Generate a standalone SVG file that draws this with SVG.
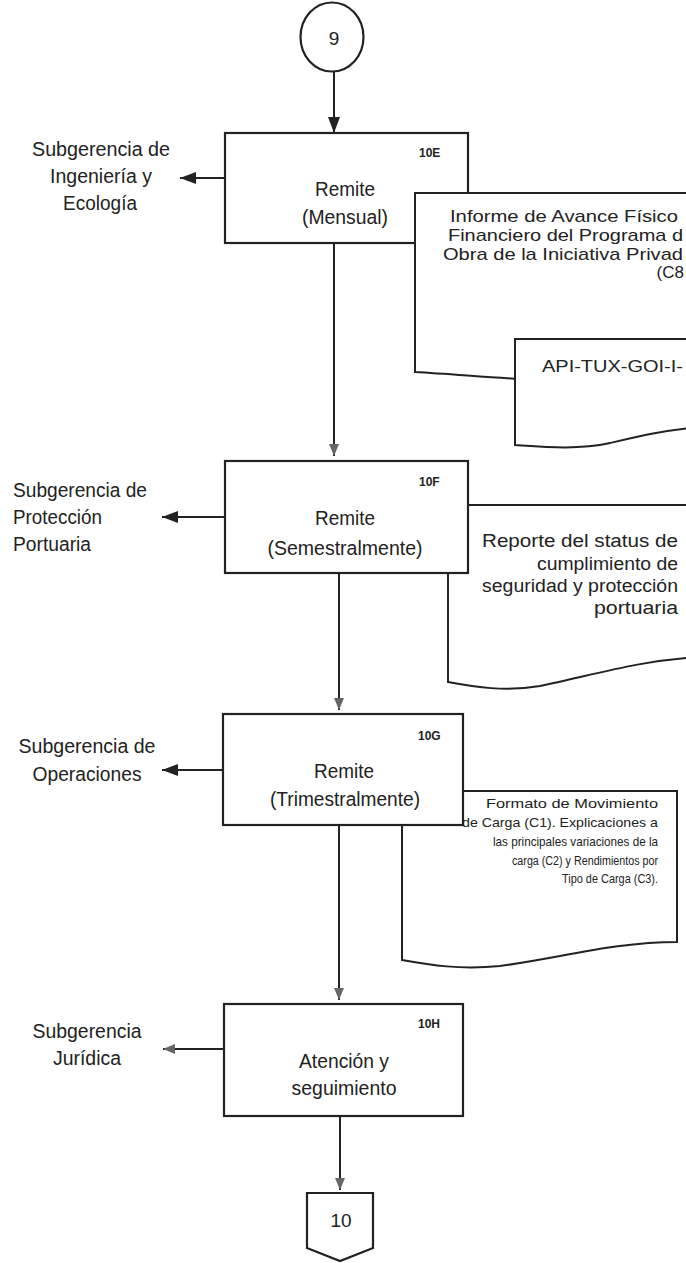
<svg xmlns="http://www.w3.org/2000/svg" width="686" height="1263" viewBox="0 0 686 1263">
<style>
text{font-family:"Liberation Sans",Arial,sans-serif;fill:#222}
.lbl{font-size:20px}
.bt{font-size:19.5px;text-anchor:middle}
.id{font-size:12px;font-weight:bold}
.d1{font-size:17px;text-anchor:end}
.d3{font-size:18px;text-anchor:end}
.d4{font-size:13px;text-anchor:end}
.d4s{font-size:12px;text-anchor:end}
.box{fill:#fff;stroke:#222;stroke-width:2.2}
.doc{fill:#fff;stroke:#222;stroke-width:2}
.ln{fill:none;stroke:#222;stroke-width:2}
</style>
<defs>
<marker id="ah" viewBox="0 0 16 12" refX="16" refY="6" markerWidth="16" markerHeight="12" markerUnits="userSpaceOnUse" orient="auto">
<path d="M0,0 L16,6 L0,12 z" fill="#222"/>
</marker>
<marker id="ahs" viewBox="0 0 12 10" refX="12" refY="5" markerWidth="12" markerHeight="10" markerUnits="userSpaceOnUse" orient="auto">
<path d="M0,0 L12,5 L0,10 z" fill="#666"/>
</marker>
</defs>

<g id="connectors">
<line class="ln" x1="334" y1="72" x2="334" y2="133" marker-end="url(#ah)"/>
<line class="ln" x1="225" y1="178" x2="180" y2="178" marker-end="url(#ah)"/>
<line class="ln" x1="334" y1="243" x2="334" y2="456" marker-end="url(#ahs)"/>
<line class="ln" x1="225" y1="517" x2="162" y2="517" marker-end="url(#ah)"/>
<line class="ln" x1="339" y1="573" x2="339" y2="710" marker-end="url(#ahs)"/>
<line class="ln" x1="223" y1="770" x2="162" y2="770" marker-end="url(#ah)"/>
<line class="ln" x1="339" y1="825" x2="339" y2="1000" marker-end="url(#ahs)"/>
<line class="ln" x1="224" y1="1049" x2="163" y2="1049" marker-end="url(#ahs)"/>
<line class="ln" x1="340" y1="1116" x2="340" y2="1190" marker-end="url(#ahs)"/>
</g>

<g id="start9">
<ellipse cx="332" cy="37" rx="31.5" ry="34.5" fill="#fff" stroke="#222" stroke-width="2.2"/>
<text x="334" y="45" font-size="19" text-anchor="middle">9</text>
</g>

<g id="lbl-ingenieria">
<text class="lbl" x="101" y="156" text-anchor="middle" textLength="138" lengthAdjust="spacingAndGlyphs">Subgerencia de</text>
<text class="lbl" x="101" y="183" text-anchor="middle" textLength="102" lengthAdjust="spacingAndGlyphs">Ingeniería y</text>
<text class="lbl" x="100" y="210" text-anchor="middle" textLength="74" lengthAdjust="spacingAndGlyphs">Ecología</text>
</g>

<g id="n10E">
<rect class="box" x="225" y="133" width="243" height="110"/>
<text class="id" x="419" y="157">10E</text>
<text class="bt" x="345" y="196" textLength="60" lengthAdjust="spacingAndGlyphs">Remite</text>
<text class="bt" x="345" y="224" textLength="86" lengthAdjust="spacingAndGlyphs">(Mensual)</text>
</g>

<g id="doc-informe">
<path class="doc" d="M700,193 L415,193 L415,372 C450,374 485,377 520,379 L700,379"/>
<text class="d1" x="678" y="222" textLength="228" lengthAdjust="spacingAndGlyphs">Informe de Avance Físico</text>
<text class="d1" x="683" y="241" textLength="235" lengthAdjust="spacingAndGlyphs">Financiero del Programa d</text>
<text class="d1" x="683" y="260" textLength="240" lengthAdjust="spacingAndGlyphs">Obra de la Iniciativa Privad</text>
<text class="d1" x="684" y="278">(C8</text>
</g>

<g id="doc-api">
<path class="doc" d="M700,339 L515,339 L515,445 C545,447 578,450 610,443 C640,436 665,430 700,427"/>
<text class="d1" x="683" y="372" textLength="141" lengthAdjust="spacingAndGlyphs">API-TUX-GOI-I-</text>
</g>

<g id="lbl-proteccion">
<text class="lbl" x="13" y="497" textLength="134" lengthAdjust="spacingAndGlyphs">Subgerencia de</text>
<text class="lbl" x="13" y="524" textLength="89" lengthAdjust="spacingAndGlyphs">Protección</text>
<text class="lbl" x="13" y="551" textLength="78" lengthAdjust="spacingAndGlyphs">Portuaria</text>
</g>

<g id="doc-reporte">
<path class="doc" d="M700,505 L448,505 L448,682 C475,687 505,692 540,686 C590,676 640,660 700,657"/>
<text class="d3" x="678" y="547" textLength="196" lengthAdjust="spacingAndGlyphs">Reporte del status de</text>
<text class="d3" x="678" y="570" textLength="141" lengthAdjust="spacingAndGlyphs">cumplimiento de</text>
<text class="d3" x="678" y="592" textLength="196" lengthAdjust="spacingAndGlyphs">seguridad y protección</text>
<text class="d3" x="678" y="614" textLength="84" lengthAdjust="spacingAndGlyphs">portuaria</text>
</g>

<g id="n10F">
<rect class="box" x="225" y="461" width="243" height="112"/>
<text class="id" x="419" y="486">10F</text>
<text class="bt" x="345" y="525" textLength="60" lengthAdjust="spacingAndGlyphs">Remite</text>
<text class="bt" x="345" y="555" textLength="155" lengthAdjust="spacingAndGlyphs">(Semestralmente)</text>
</g>

<g id="lbl-operaciones">
<text class="lbl" x="87" y="753" text-anchor="middle" textLength="137" lengthAdjust="spacingAndGlyphs">Subgerencia de</text>
<text class="lbl" x="87" y="781" text-anchor="middle" textLength="109" lengthAdjust="spacingAndGlyphs">Operaciones</text>
</g>

<g id="doc-formato">
<path class="doc" d="M677,791 L402,791 L402,960 C430,965 460,970 500,966 C560,958 615,942 677,942 Z"/>
<text class="d4" x="658" y="808" textLength="172" lengthAdjust="spacingAndGlyphs">Formato de Movimiento</text>
<text class="d4" x="658" y="827" textLength="196" lengthAdjust="spacingAndGlyphs">de Carga (C1). Explicaciones a</text>
<text class="d4" x="658" y="846" textLength="165" lengthAdjust="spacingAndGlyphs">las principales variaciones de la</text>
<text class="d4s" x="658" y="865" textLength="146" lengthAdjust="spacingAndGlyphs">carga (C2) y Rendimientos por</text>
<text class="d4s" x="658" y="883" textLength="96" lengthAdjust="spacingAndGlyphs">Tipo de Carga (C3).</text>
</g>

<g id="n10G">
<rect class="box" x="223" y="714" width="240" height="111"/>
<text class="id" x="418" y="740">10G</text>
<text class="bt" x="344" y="778" textLength="60" lengthAdjust="spacingAndGlyphs">Remite</text>
<text class="bt" x="345" y="806" textLength="150" lengthAdjust="spacingAndGlyphs">(Trimestralmente)</text>
</g>

<g id="lbl-juridica">
<text class="lbl" x="87" y="1038" text-anchor="middle" textLength="109" lengthAdjust="spacingAndGlyphs">Subgerencia</text>
<text class="lbl" x="87" y="1065" text-anchor="middle" textLength="68" lengthAdjust="spacingAndGlyphs">Jurídica</text>
</g>

<g id="n10H">
<rect class="box" x="224" y="1004" width="239" height="112"/>
<text class="id" x="418" y="1028">10H</text>
<text class="bt" x="344" y="1068" textLength="90" lengthAdjust="spacingAndGlyphs">Atención y</text>
<text class="bt" x="344" y="1095" textLength="105" lengthAdjust="spacingAndGlyphs">seguimiento</text>
</g>

<g id="offpage10">
<path class="box" d="M307,1193 L373,1193 L373,1248 L340,1261 L307,1248 Z"/>
<text x="341" y="1227" font-size="19" text-anchor="middle">10</text>
</g>
</svg>
